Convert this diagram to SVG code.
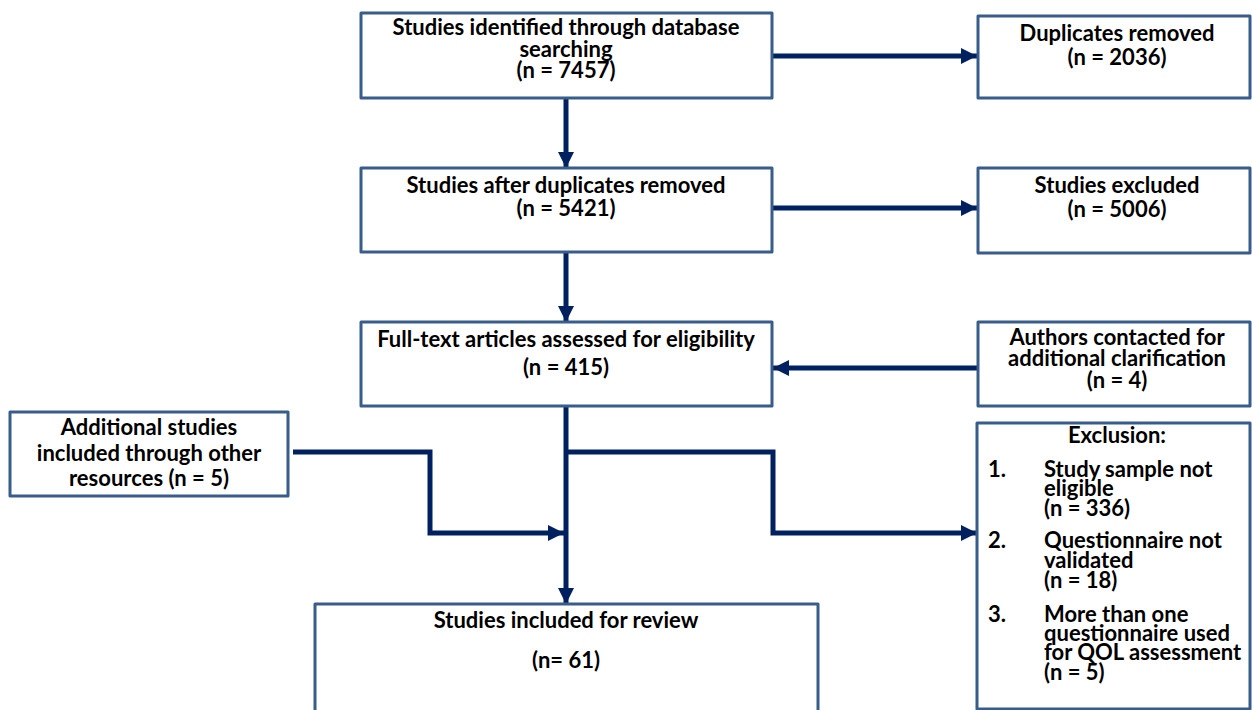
<svg xmlns="http://www.w3.org/2000/svg" width="1252" height="710" viewBox="0 0 1252 710">
<style>
.box{fill:#ffffff;stroke:#385d8a;stroke-width:3;stroke-linejoin:round}
.con{fill:none;stroke:#002060;stroke-width:5;stroke-linejoin:miter}
text{font-family:Lato,"Liberation Sans",sans-serif;font-weight:bold;font-size:22px;fill:#000000}
.c{text-anchor:middle}
</style>
<defs>
<marker id="ah" markerUnits="userSpaceOnUse" markerWidth="16" markerHeight="16" refX="16" refY="8" orient="auto">
<path d="M0,0 L16,8 L0,16 Z" fill="#002060"/>
</marker>
</defs>
<rect width="1252" height="710" fill="#ffffff"/>
<g id="connectors">
<path class="con" d="M566,98 V168" marker-end="url(#ah)"/>
<path class="con" d="M772,56 H977" marker-end="url(#ah)"/>
<path class="con" d="M772,208 H977" marker-end="url(#ah)"/>
<path class="con" d="M566,252 V322" marker-end="url(#ah)"/>
<path class="con" d="M978,368 H773" marker-end="url(#ah)"/>
<path class="con" d="M566,406 V604" marker-end="url(#ah)"/>
<path class="con" d="M293,452 H430 V533 H564" marker-end="url(#ah)"/>
<path class="con" d="M566,452 H773 V533 H977" marker-end="url(#ah)"/>
</g>
<g id="identified">
<rect class="box" x="361" y="13" width="411" height="85"/>
<text class="c" x="566" y="35">Studies identified through database</text>
<text class="c" x="566" y="57">searching</text>
<text class="c" x="566" y="78">(n = 7457)</text>
</g>
<g id="duplicates">
<rect class="box" x="978" y="16" width="272" height="82"/>
<text class="c" x="1117" y="41">Duplicates removed</text>
<text class="c" x="1117" y="65">(n = 2036)</text>
</g>
<g id="after-duplicates">
<rect class="box" x="361" y="168" width="411" height="84"/>
<text class="c" x="566" y="193">Studies after duplicates removed</text>
<text class="c" x="566" y="216">(n = 5421)</text>
</g>
<g id="excluded">
<rect class="box" x="978" y="168" width="272" height="85"/>
<text class="c" x="1117" y="193">Studies excluded</text>
<text class="c" x="1117" y="217">(n = 5006)</text>
</g>
<g id="fulltext">
<rect class="box" x="361" y="322" width="411" height="84"/>
<text class="c" x="566" y="347">Full-text articles assessed for eligibility</text>
<text class="c" x="566" y="375">(n = 415)</text>
</g>
<g id="authors">
<rect class="box" x="978" y="322" width="272" height="84"/>
<text class="c" x="1117" y="345">Authors contacted for</text>
<text class="c" x="1117" y="366">additional clarification</text>
<text class="c" x="1117" y="388">(n = 4)</text>
</g>
<g id="additional">
<rect class="box" x="10" y="412" width="278" height="84"/>
<text class="c" x="149" y="435">Additional studies</text>
<text class="c" x="149" y="461">included through other</text>
<text class="c" x="149" y="486">resources (n = 5)</text>
</g>
<g id="exclusion">
<rect class="box" x="977" y="423" width="273" height="286"/>
<text class="c" x="1117" y="443">Exclusion:</text>
<text x="988" y="477">1.</text>
<text x="1044" y="477">Study sample not</text>
<text x="1044" y="496">eligible</text>
<text x="1044" y="516">(n = 336)</text>
<text x="988" y="548">2.</text>
<text x="1044" y="548">Questionnaire not</text>
<text x="1044" y="568">validated</text>
<text x="1044" y="588">(n = 18)</text>
<text x="988" y="622">3.</text>
<text x="1044" y="622">More than one</text>
<text x="1044" y="641">questionnaire used</text>
<text x="1044" y="660">for QOL assessment</text>
<text x="1044" y="680">(n = 5)</text>
</g>
<g id="included">
<rect class="box" x="315" y="604" width="503" height="115"/>
<text class="c" x="566" y="628">Studies included for review</text>
<text class="c" x="566" y="668">(n= 61)</text>
</g>
</svg>
